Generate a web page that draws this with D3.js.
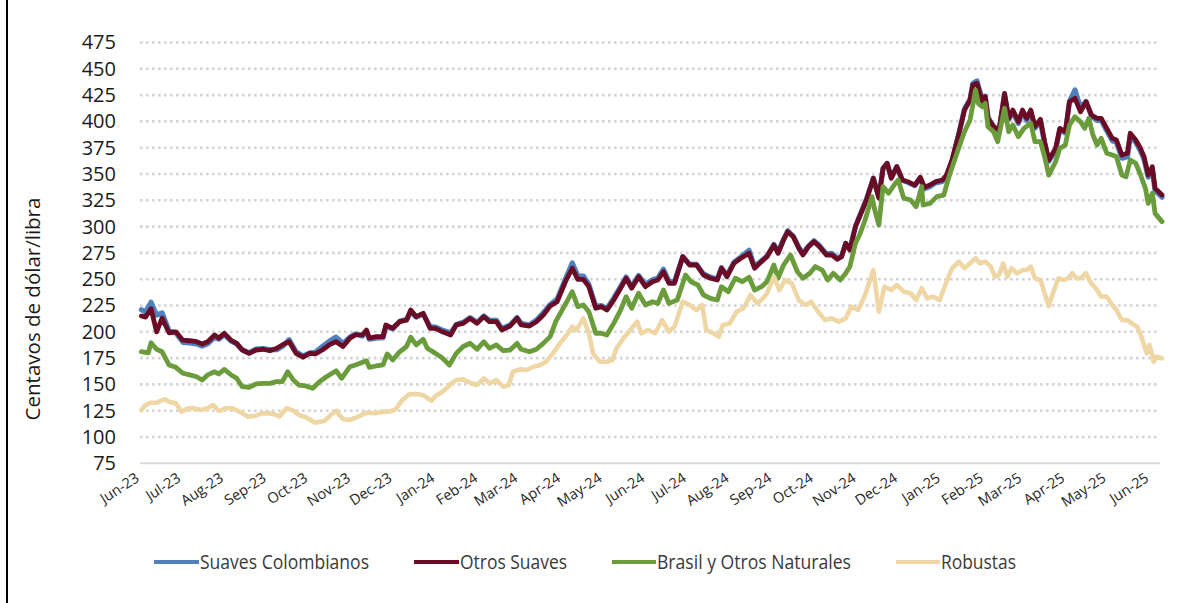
<!DOCTYPE html>
<html><head><meta charset="utf-8">
<script src="https://cdn.jsdelivr.net/npm/d3@7"></script>
<style>
html,body{margin:0;padding:0;background:#fff;}
svg{display:block;}
text{font-family:"Open Sans",sans-serif;}
</style></head><body>
<svg id="chart" width="1197" height="603"></svg>
<script>
// ---------- DATA ----------
const startDate = new Date(2023, 5, 1);   // day 0
const spanDays = 740;
const yTicks = [75,100,125,150,175,200,225,250,275,300,325,350,375,400,425,450,475];
const monthLabels = ["Jun-23","Jul-23","Aug-23","Sep-23","Oct-23","Nov-23","Dec-23","Jan-24","Feb-24","Mar-24","Apr-24","May-24","Jun-24","Jul-24","Aug-24","Sep-24","Oct-24","Nov-24","Dec-24","Jan-25","Feb-25","Mar-25","Apr-25","May-25","Jun-25"];
const seriesNames = ["Suaves Colombianos","Otros Suaves","Brasil y Otros Naturales","Robustas"];
const seriesColors = ["#4f81bd","#6b0c26","#6a9c3c","#efd7a5"];
const yTitle = "Centavos de dólar/libra";

// [day since 1 Jun 2023, US cents/lb]
const suavesColombianos = [[1,221],[4,219],[8,228],[12,216],[16,218],[21,201],[26,199],[31,190],[36,189.5],[41,188.5],[45,186.5],[49,188.5],[54,195],[57,193],[61,197.5],[66,191],[70,188.5],[74,183],[79,180],[84,183.5],[89,184],[94,183],[99,183],[103,186],[108,192.5],[113,181],[118,177],[123,180],[127,180.5],[132,186],[137,191],[142,195],[147,189],[152,195],[156,198],[161,196],[164,200.5],[166,193],[171,194],[176,194.5],[178,205],[183,203],[188,210],[193,212],[196,219],[200,214],[205,217],[210,205],[214,204.5],[219,201.5],[225,199],[229,207],[234,209],[239,213.5],[244,209],[249,215],[253,211],[258,211],[262,203],[268,206.5],[273,213.5],[276,208],[282,206.5],[287,211],[292,218],[297,226],[302,231],[308,250],[313,265.5],[317,253],[321,253],[325,245],[330,224],[334,225],[338,222],[343,232],[348,243],[352,252],[356,243],[361,253.5],[366,245],[371,249.5],[375,251],[379,259.5],[383,248],[387,247.5],[393,271.5],[398,264],[403,264],[408,255],[413,252],[418,250],[421,261],[425,253.5],[430,266],[435,271],[441,277.5],[445,262],[450,267.5],[454,272],[459,283],[462,276],[466,288],[469,296],[473,291],[477,280.5],[480,274.5],[484,281.5],[488,286.5],[492,282],[497,274],[501,274.5],[505,270],[508,272],[511,284],[514,278.5],[518,300],[521,310],[526,326],[531,346],[535,328],[538,355],[541,360],[544,346.5],[548,357],[552,344],[556,342],[561,339],[565,345.5],[568,336],[572,338],[576,341.5],[581,343],[584,348],[588,363],[593,389],[597,412],[601,421],[603,436],[606,438.5],[610,420],[612,424],[614,404],[618,395],[622,390],[626,425.5],[629,402],[632,409],[636,398],[639,409],[642,401],[645,409],[648,393.5],[652,400],[655,379],[658,362],[663,373],[666,392],[670,389],[673,419],[677,430],[681,413],[685,419],[689,404.5],[693,401],[696,401],[700,391],[704,381.5],[707,380],[711,365],[715,366.5],[717,386],[721,380],[724,373],[727,364],[730,347],[733,354],[735,334],[740,328]];

const otrosSuaves = [[1,215],[4,214],[8,222],[12,200],[16,213],[21,199],[26,200],[31,192],[36,191.5],[41,190.6],[45,188.4],[49,190.6],[54,197],[57,194],[61,198.5],[66,192],[70,189],[74,182.7],[79,179.5],[84,182.7],[89,183.4],[94,182],[99,184.3],[103,187.5],[108,190.6],[113,179.5],[118,175.8],[123,179.5],[127,179],[132,182.7],[137,187.5],[142,190.6],[147,186],[152,194],[156,197],[161,197],[164,201.7],[166,194],[171,195.4],[176,195.4],[178,206.5],[183,203.3],[188,209.6],[193,211],[196,220.7],[200,214.4],[205,217.6],[210,203.3],[214,203.3],[219,200],[225,197],[229,206.5],[234,208],[239,212.8],[244,208],[249,214.4],[253,209.6],[258,209.6],[262,201.7],[268,205.5],[273,212.8],[276,206.5],[282,205.5],[287,209.6],[292,216],[297,224.5],[302,228.6],[308,247.6],[313,260.4],[317,249.9],[321,249.9],[325,242.9],[330,222.4],[334,223.9],[338,220.7],[343,230.2],[348,241.4],[352,250.9],[356,241.4],[361,252.4],[366,242.9],[371,247.6],[375,249.2],[379,257.1],[383,246.1],[387,246.1],[393,271.4],[398,263.5],[403,263.5],[408,254],[413,250.9],[418,249.2],[421,260.4],[425,252.4],[430,265.1],[435,269.9],[441,274.6],[445,260.4],[450,266.7],[454,271.4],[459,282.5],[462,274.6],[466,287.3],[469,295.2],[473,290.4],[477,279.4],[480,273],[484,280.9],[488,285.7],[492,280.9],[497,273],[501,273],[505,268.9],[508,271.4],[511,284.1],[514,277.8],[518,299.9],[521,309.4],[526,325.3],[531,345.9],[535,327],[538,355.4],[541,360.2],[544,345.9],[548,357],[552,344.3],[556,342.7],[561,339.5],[565,346.9],[568,337.4],[572,339.5],[576,342.7],[581,344.3],[584,349.1],[588,363.3],[593,388.7],[597,410.8],[601,420.3],[603,434.6],[606,436.2],[610,418.7],[612,423.5],[614,402.9],[618,395],[622,391.8],[626,426.7],[629,402.9],[632,410.8],[636,399.7],[639,410.8],[642,402.9],[645,410.8],[648,395],[652,402],[655,380.7],[658,363.3],[663,374.4],[666,393.4],[670,390.2],[673,418.7],[677,421.9],[681,409.2],[685,418.7],[689,406],[693,402.9],[696,402.9],[700,393.4],[704,383.9],[707,382.3],[711,368],[715,369.7],[717,388.7],[721,382.3],[724,375.4],[727,366.4],[730,349],[733,356.9],[735,336.4],[740,330]];

const brasilNaturales = [[1,181.1],[6,180],[8,189.6],[12,183.4],[16,181],[21,168.5],[26,166.2],[31,160.6],[36,159],[41,157.3],[45,154.2],[49,159],[54,162],[57,159.9],[61,164.3],[66,159],[70,155.8],[74,147.8],[79,147.3],[84,150.4],[89,151],[94,151],[99,152.6],[103,152.6],[107,162],[111,154.2],[115,149.4],[120,148.5],[125,146.3],[130,152.6],[135,157.3],[142,163],[146,155.8],[152,166.8],[156,168.5],[164,172.5],[166,166.2],[171,167.5],[176,168.5],[179,179],[183,173.2],[188,181],[193,186],[196,194.8],[200,187.5],[205,192.9],[208,184.3],[214,179.5],[219,175],[224,168.5],[229,179.5],[234,186],[239,189.1],[244,183.4],[249,190.6],[253,184.3],[258,187.5],[263,182],[268,182.7],[273,189],[276,183.4],[282,181.1],[287,183.4],[292,189],[297,195.4],[301,209.6],[307,223.9],[313,238.1],[317,223.9],[321,225.5],[325,219.1],[330,198.6],[334,198.6],[338,197],[343,208],[348,220.7],[352,233.4],[356,222.4],[361,236.6],[366,225.5],[371,228.6],[375,227],[379,239.7],[383,227],[389,230.2],[395,254],[399,247.6],[404,244.5],[408,235],[413,231.8],[418,230.2],[421,242.9],[426,238.1],[431,250.9],[436,247.6],[441,251.8],[445,239.7],[450,242.9],[454,247.6],[459,263.5],[462,250.9],[466,263.5],[471,273],[476,257.1],[480,250.9],[485,255.6],[489,262],[494,258.7],[498,249.2],[502,255.6],[507,249.2],[511,255.6],[514,262],[518,284.1],[521,292],[525,306.3],[530,328.5],[532,315.8],[535,301.5],[538,338],[542,331.7],[546,339.5],[549,344.3],[553,327],[558,325.3],[562,318.9],[566,338],[567,320.5],[572,322.1],[577,328.5],[582,330],[585,344.3],[589,360.2],[594,379.2],[597,390.2],[601,401.3],[605,429.8],[607,417.1],[610,413.9],[612,417.1],[614,395],[618,390.2],[621,380.7],[626,412.5],[629,390.2],[632,396.6],[636,385.5],[640,393.4],[645,398.2],[648,380.7],[652,380.7],[655,366.4],[658,349],[663,361.8],[666,374.4],[670,377.6],[673,396.6],[677,404.5],[681,399.7],[684,393.4],[687,402.9],[690,387.1],[693,377.6],[696,383.9],[700,369.7],[704,368],[707,366.4],[711,349],[714,347.4],[717,363.3],[721,360.2],[724,350.7],[728,336.4],[730,322.1],[733,331.7],[735,312.6],[740,304.7]];

const robustas = [[1,125.7],[4,130.4],[8,132.6],[12,132.6],[18,135.8],[21,133.6],[26,132],[30,124.1],[35,127.3],[39,127.3],[44,125.7],[49,127.3],[53,130.4],[57,124.7],[62,127.3],[67,127.3],[72,124.1],[78,119.4],[83,120],[88,122.5],[94,122.5],[99,120.9],[101,119.4],[106,127.3],[111,125],[115,120.9],[120,118.7],[127,113.6],[134,115.5],[138,120.9],[142,125],[147,116.8],[152,116.2],[158,119.4],[164,123.1],[170,122.5],[176,124.1],[181,124.1],[185,126.3],[190,135.2],[195,140.6],[199,140.9],[205,139.9],[211,134.5],[214,139],[219,143],[225,150.4],[229,154.2],[234,154.8],[239,151.6],[244,149.4],[249,155.8],[253,151],[258,154.2],[263,147.8],[267,149.4],[270,162],[275,164.3],[280,163.7],[285,166.8],[290,168.5],[294,171.6],[299,179.5],[304,189],[309,197],[313,204.9],[316,201.7],[321,212.8],[325,198.6],[328,179.5],[333,171.6],[338,171.6],[342,173.2],[345,184.3],[350,193.8],[355,201.7],[360,209.6],[363,198.6],[368,201.7],[373,198.6],[378,211],[383,200.1],[387,204.9],[393,228.6],[398,225.5],[403,220.7],[407,225.5],[410,201.7],[415,198.6],[419,195.4],[422,206.5],[427,208],[432,219.1],[437,222.4],[442,235],[447,227],[451,231.8],[454,236.6],[459,252.4],[463,239.7],[467,249.2],[472,246.1],[477,230.2],[482,225.5],[486,228.6],[491,219.1],[496,211.2],[501,212.8],[506,209.6],[511,212.8],[515,223.9],[520,220.7],[525,235],[531,258.7],[535,219.1],[539,242.9],[544,239.7],[548,244.5],[553,238.1],[558,236.6],[562,230.2],[566,241.4],[570,231.8],[574,233.4],[579,230.2],[584,247.6],[588,260.4],[593,266.7],[597,260.4],[601,265.1],[605,269.9],[608,265.1],[612,266.7],[616,262],[619,252.4],[622,254],[625,265.1],[628,252.4],[631,260.4],[635,255.6],[639,258.7],[642,258.7],[645,262],[648,250.9],[652,249.2],[655,236.6],[658,224.5],[661,236.6],[665,250.9],[669,249.2],[672,250.9],[675,255.6],[678,250.9],[681,250.9],[685,255.6],[688,247.6],[693,239.7],[696,233.4],[700,233.4],[704,225.5],[707,220.7],[711,211.2],[715,211.2],[718,208],[722,204.9],[725,195.4],[729,179.5],[731,187.5],[734,171.6],[736,176.4],[740,174.8]];

const seriesData = [suavesColombianos, otrosSuaves, brasilNaturales, robustas];

// ---------- CHART ----------
const svg = d3.select("#chart");
const plot = {left: 140, right: 1162, top: 42.5, bottom: 463.3};
const endDate = d3.timeDay.offset(startDate, spanDays);
const x = d3.scaleTime().domain([startDate, endDate]).range([plot.left, plot.right]);
const y = d3.scaleLinear().domain([75, 475]).range([plot.bottom, plot.top]);

// left frame line
svg.append("line").attr("x1",7).attr("x2",7).attr("y1",0).attr("y2",603)
  .attr("stroke","#000").attr("stroke-width",2);

// gridlines
svg.append("g").selectAll("line").data(yTicks.filter(v => v > 75)).join("line")
  .attr("x1", plot.left).attr("x2", plot.right - 2)
  .attr("y1", d => y(d)).attr("y2", d => y(d))
  .attr("stroke", "#d4d4d4").attr("stroke-width", 2.6).attr("stroke-dasharray", "2.6,3.4");

// y axis labels
const yAxis = d3.axisLeft(y).tickValues(yTicks).tickSize(0).tickPadding(0);
const gy = svg.append("g").attr("transform", "translate(116,0)").call(yAxis);
gy.select(".domain").remove();
gy.selectAll("text").attr("font-family", "'Open Sans',sans-serif").attr("font-size", 20).attr("fill", "#1a1a1a");

// baseline
svg.append("line").attr("x1", plot.left).attr("x2", plot.right - 2)
  .attr("y1", y(75)).attr("y2", y(75)).attr("stroke", "#d9d9d9").attr("stroke-width", 2);

// x axis labels
const monthDates = d3.timeMonth.range(startDate, d3.timeDay.offset(endDate, 1)).slice(0, monthLabels.length);
const xAxis = d3.axisBottom(x).tickValues(monthDates).tickSize(0).tickFormat((d, i) => monthLabels[i]);
const gx = svg.append("g").attr("transform", `translate(0,${y(75)})`).call(xAxis);
gx.select(".domain").remove();
gx.selectAll("text")
  .attr("font-family", "'Open Sans',sans-serif").attr("font-size", 14.5).attr("fill", "#262626")
  .attr("text-anchor", "end").attr("dy", "0.35em")
  .attr("transform", "translate(-3,13) rotate(-33)")
  .attr("y", 0).attr("x", 0);

// y title
svg.append("text").attr("transform", "translate(40,309) rotate(-90)")
  .attr("text-anchor", "middle").attr("font-size", 20.5).attr("fill", "#1a1a1a").text(yTitle);

// lines
const line = d3.line().x(d => x(d3.timeDay.offset(startDate, d[0]))).y(d => y(d[1])).curve(d3.curveLinear);
const widths = [5.2, 4.8, 4.8, 4.6];
svg.append("g").selectAll("path").data(seriesData).join("path")
  .attr("d", line).attr("fill", "none")
  .attr("stroke", (d, i) => seriesColors[i]).attr("stroke-width", (d, i) => widths[i])
  .attr("stroke-linejoin", "round").attr("stroke-linecap", "round");

// legend
const legendItems = [
  {x0: 154, x1: 199, tx: 200, tw: 169},
  {x0: 414, x1: 459, tx: 460, tw: 107},
  {x0: 612, x1: 656, tx: 657, tw: 194},
  {x0: 896, x1: 940, tx: 941, tw: 75}
];
const lg = svg.append("g");
legendItems.forEach((it, i) => {
  lg.append("line").attr("x1", it.x0).attr("x2", it.x1).attr("y1", 562).attr("y2", 562)
    .attr("stroke", seriesColors[i]).attr("stroke-width", 4);
  lg.append("text").attr("x", it.tx).attr("y", 562).attr("dy", "0.35em")
    .attr("font-size", 20).attr("fill", "#3a3a3a")
    .attr("textLength", it.tw).attr("lengthAdjust", "spacingAndGlyphs")
    .text(seriesNames[i]);
});
</script>
</body></html>
